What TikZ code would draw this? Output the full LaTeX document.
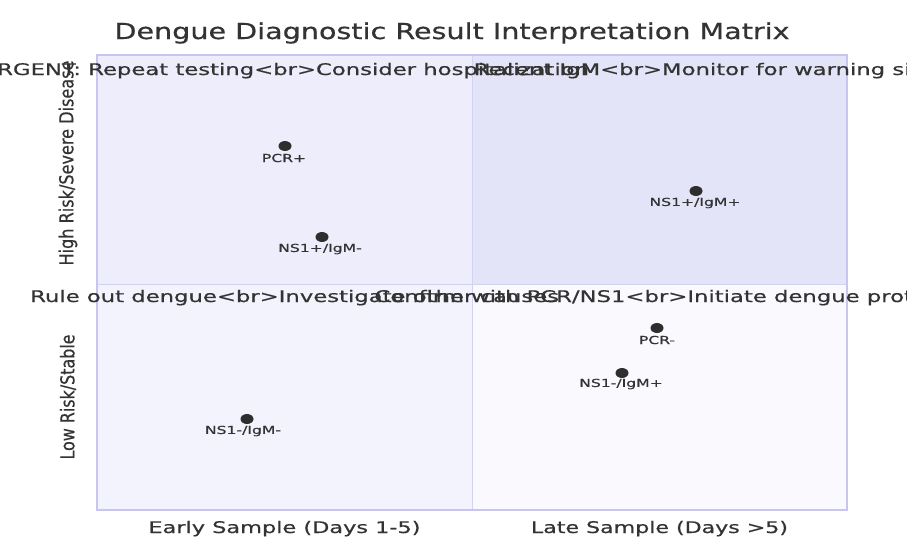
\documentclass[tikz,border=0pt]{standalone}
\usepackage{fontspec}
\setmainfont{DejaVu Sans}[FakeBold=0.5]
\usepackage{graphicx}
\usetikzlibrary{shapes.geometric}

\definecolor{ink}{HTML}{333333}
\definecolor{dotc}{HTML}{2E2E2E}
\definecolor{qone}{HTML}{E4E4F8}
\definecolor{qtwo}{HTML}{EDEDFC}
\definecolor{qthree}{HTML}{F3F3FD}
\definecolor{qfour}{HTML}{F9F9FE}
\definecolor{frame}{HTML}{C6C6EE}
\definecolor{divider}{HTML}{D2D2F2}

% horizontally widened text
\newcommand{\wide}[1]{\scalebox{1.42}[1]{#1}}

\begin{document}
\begin{tikzpicture}[x=1pt,y=-1pt,
  qtext/.style={inner sep=0pt, anchor=base west, text=ink,
                font=\fontsize{16}{19}\selectfont},
  axlabel/.style={inner sep=0pt, anchor=base, text=ink,
                font=\fontsize{16}{19}\selectfont},
  ylabel/.style={inner sep=0pt, anchor=center, text=ink, rotate=90,
                font=\fontsize{16}{19}\selectfont},
  datadot/.style={ellipse, fill=dotc, draw=none, inner sep=0pt,
                minimum width=13pt, minimum height=10pt},
  dotlabel/.style={inner sep=0pt, anchor=center, text=ink,
                font=\fontsize{11}{13}\selectfont}]

\useasboundingbox (0,0) rectangle (907,550);
\clip (0,0) rectangle (907,550);
\fill[white] (0,0) rectangle (907,550);

% title
\node[inner sep=0pt, anchor=base, text=ink, font=\fontsize{22}{26}\selectfont]
  (title) at (452,39) {\resizebox{675pt}{\height}{Dengue Diagnostic Result Interpretation Matrix}};

% quadrants
\fill[qtwo]   (97,55)  rectangle (472,284);
\fill[qone]   (472,55) rectangle (847,284);
\fill[qthree] (97,284) rectangle (472,510);
\fill[qfour]  (472,284) rectangle (847,510);
\draw[divider, line width=1pt] (472,55) -- (472,510);
\draw[divider, line width=1pt] (97,284) -- (847,284);
\draw[frame, line width=2pt] (97,55) rectangle (847,510);

% quadrant captions
\node[qtext] (q2) at (88,75)  {\wide{\llap{URGENT: }Repeat testing<br>Consider hospitalization}};
\node[qtext] (q1) at (600,75) {\wide{\llap{Recent IgM}<br>Monitor for warning signs}};
\node[qtext] (q3) at (30,302) {\wide{Rule out dengue<br>Investigate other causes}};
\node[qtext] (q4) at (471,302) {\wide{\llap{Confirm }with PCR/NS1<br>Initiate dengue protocol}};

% axis labels
\node[axlabel] (xl) at (284.5,533) {\resizebox{272pt}{\height}{Early Sample (Days 1-5)}};
\node[axlabel] (xr) at (659.5,533) {\resizebox{257pt}{\height}{Late Sample (Days >5)}};
\node[ylabel] (yt) at (68,163) {\resizebox{205pt}{1.2\height}{High Risk/Severe Disease}};
\node[ylabel] (yb) at (68,397) {\resizebox{125pt}{1.2\height}{Low Risk/Stable}};

% data points
\node[datadot] (pcrp) at (285,146) {};
\node[dotlabel] (pcrpl) at (284,158) {\wide{PCR+}};
\node[datadot] (nppn) at (322,237) {};
\node[dotlabel] (nppnl) at (320,249) {\wide{NS1+/IgM-}};
\node[datadot] (nppp) at (696,191) {};
\node[dotlabel] (npppl) at (695,203) {\wide{NS1+/IgM+}};
\node[datadot] (pcrn) at (657,328) {};
\node[dotlabel] (pcrnl) at (657,340) {\wide{PCR-}};
\node[datadot] (nnpp) at (622,373) {};
\node[dotlabel] (nnppl) at (621,384) {\wide{NS1-/IgM+}};
\node[datadot] (nnnn) at (247,419) {};
\node[dotlabel] (nnnnl) at (243,431) {\wide{NS1-/IgM-}};

\end{tikzpicture}
\end{document}
